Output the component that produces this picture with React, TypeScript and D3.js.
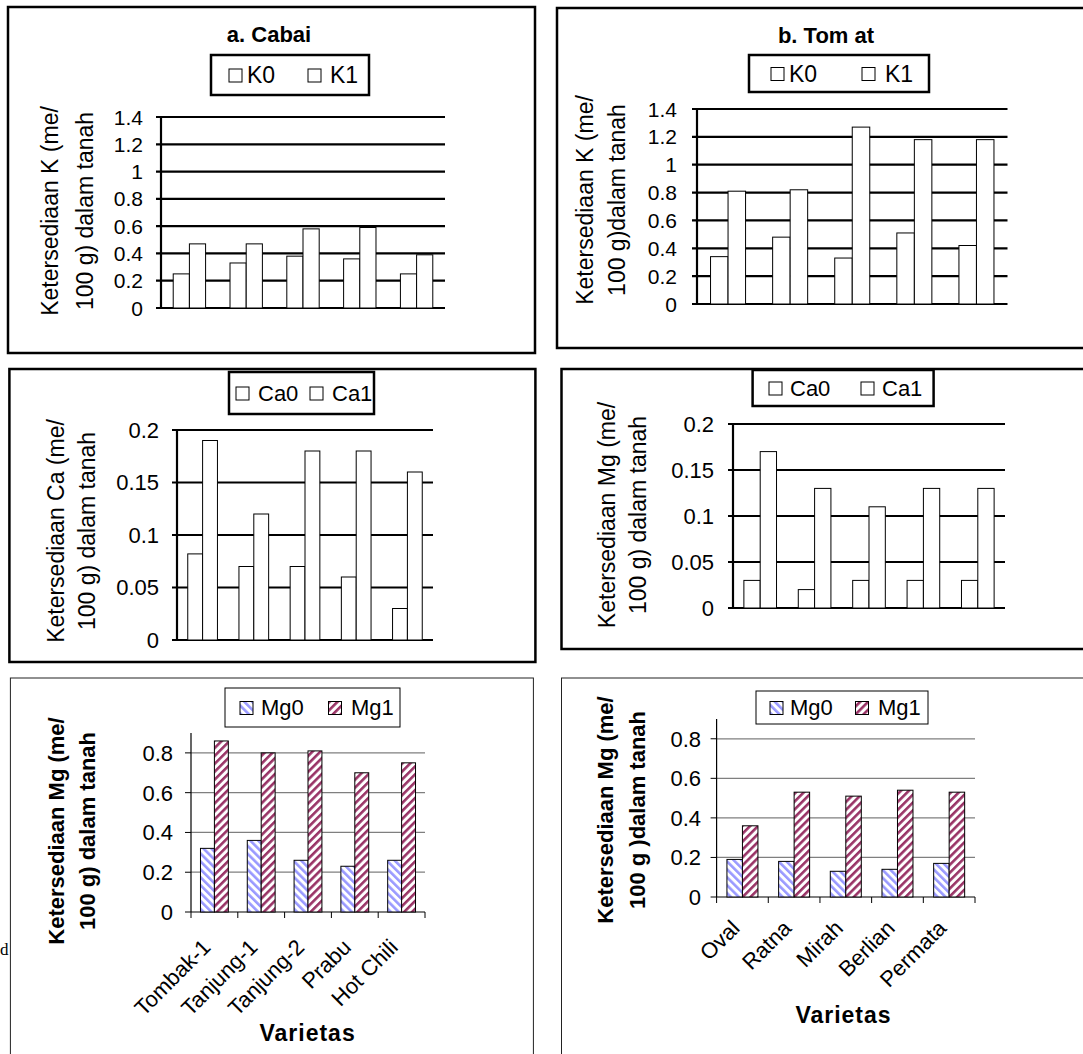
import React from "react";
import * as d3 from "d3";

// varieties (same order in every panel of a column)
const cabaiVarieties = ["Tombak-1", "Tanjung-1", "Tanjung-2", "Prabu", "Hot Chili"];
const tomatVarieties = ["Oval", "Ratna", "Mirah", "Berlian", "Permata"];

// K (me/100 g)
const cabaiK0 = [0.25, 0.33, 0.38, 0.36, 0.25];
const cabaiK1 = [0.47, 0.47, 0.58, 0.59, 0.39];
const tomatK0 = [0.34, 0.48, 0.33, 0.51, 0.42];
const tomatK1 = [0.81, 0.82, 1.27, 1.18, 1.18];

// Ca (me/100 g)
const cabaiCa0 = [0.082, 0.07, 0.07, 0.06, 0.03];
const cabaiCa1 = [0.19, 0.12, 0.18, 0.18, 0.16];
const tomatCa0 = [0.03, 0.02, 0.03, 0.03, 0.03];
const tomatCa1 = [0.17, 0.13, 0.11, 0.13, 0.13];

// Mg (me/100 g)
const cabaiMg0 = [0.32, 0.36, 0.26, 0.23, 0.26];
const cabaiMg1 = [0.86, 0.8, 0.81, 0.7, 0.75];
const tomatMg0 = [0.19, 0.18, 0.13, 0.14, 0.17];
const tomatMg1 = [0.36, 0.53, 0.51, 0.54, 0.53];

const kTicks = [0, 0.2, 0.4, 0.6, 0.8, 1, 1.2, 1.4];
const caTicks = [0, 0.05, 0.1, 0.15, 0.2];
const mgTicks = [0, 0.2, 0.4, 0.6, 0.8];

const kLegend = ["K0", "K1"];
const caLegend = ["Ca0", "Ca1"];
const mgLegend = ["Mg0", "Mg1"];

const FONT = "'Liberation Sans', Arial, sans-serif";

const panels = [
    {
        frame: { x: 8, y: 7, w: 527, h: 346, sw: 2.5 },
        title: { text: "a. Cabai", x: 269, y: 42 },
        legend: { x: 211, y: 55, w: 158, h: 40, sw: 2.5, sq: [229, 308], tx: [247, 330], fs: 23 },
        labels: kLegend,
        plot: { left: 161, right: 445, top: 117, bottom: 308 },
        max: 1.4, ticks: kTicks, pad: 0.43,
        labelRight: 143, tickFs: 21,
        yTitle: ["Ketersediaan K (me/", "100 g) dalam tanah"], yTitleX: [50, 85], yTitleCy: 211, yTitleFs: 23,
        cats: cabaiVarieties, series: [cabaiK0, cabaiK1], style: "plain"
    },
    {
        frame: { x: 557, y: 8, w: 540, h: 340, sw: 2.5 },
        title: { text: "b. Tom at", x: 826, y: 43 },
        legend: { x: 749, y: 55, w: 180, h: 37, sw: 2.5, sq: [771, 862], tx: [789, 885], fs: 23 },
        labels: kLegend,
        plot: { left: 697, right: 1007.5, top: 109, bottom: 304 },
        max: 1.4, ticks: kTicks, pad: 0.436,
        labelRight: 677, tickFs: 21,
        yTitle: ["Ketersediaan K (me/", "100 g)dalam tanah"], yTitleX: [584.5, 617], yTitleCy: 200, yTitleFs: 23,
        cats: tomatVarieties, series: [tomatK0, tomatK1], style: "plain"
    },
    {
        frame: { x: 9.4, y: 369, w: 526, h: 293, sw: 2.5 },
        legend: { x: 229, y: 372, w: 145, h: 42, sw: 2.5, sq: [236, 310], tx: [258, 332], fs: 22 },
        labels: caLegend,
        plot: { left: 177, right: 433, top: 430, bottom: 640 },
        max: 0.2, ticks: caTicks, pad: 0.42,
        labelRight: 159, tickFs: 22,
        yTitle: ["Ketersediaan Ca (me/", "100 g) dalam tanah"], yTitleX: [55.6, 87], yTitleCy: 531, yTitleFs: 23,
        cats: cabaiVarieties, series: [cabaiCa0, cabaiCa1], style: "plain"
    },
    {
        frame: { x: 561.5, y: 369, w: 540, h: 280, sw: 2.5 },
        legend: { x: 752.6, y: 370, w: 181, h: 36, sw: 2.5, sq: [769, 861], tx: [790, 882], fs: 22 },
        labels: caLegend,
        plot: { left: 733, right: 1005, top: 424, bottom: 608 },
        max: 0.2, ticks: caTicks, pad: 0.4,
        labelRight: 714, tickFs: 22,
        yTitle: ["Ketersediaan Mg (me/", "100 g) dalam tanah"], yTitleX: [607, 638], yTitleCy: 515, yTitleFs: 23,
        cats: tomatVarieties, series: [tomatCa0, tomatCa1], style: "plain"
    },
    {
        frame: { x: 10.4, y: 678, w: 523, h: 420, sw: 1 },
        legend: { x: 225, y: 688, w: 175, h: 39, sw: 1, sq: [240, 328.5], tx: [261, 351], fs: 22 },
        labels: mgLegend,
        plot: { left: 191, right: 425, top: 733, bottom: 912 },
        max: 0.9, ticks: mgTicks, pad: 0.405,
        labelRight: 173, tickFs: 22,
        yTitle: ["Ketersediaan Mg (me/", "100 g) dalam tanah"], yTitleX: [55.6, 87], yTitleCy: 831, yTitleFs: 22,
        cats: cabaiVarieties, series: [cabaiMg0, cabaiMg1], style: "hatched",
        xTitle: { x: 307.6, y: 1041 }, xLabelDx: -8, xLabelDy: 31
    },
    {
        frame: { x: 561.5, y: 678, w: 540, h: 420, sw: 1 },
        legend: { x: 756, y: 691, w: 172, h: 33, sw: 1, sq: [770, 855.5], tx: [790, 878], fs: 22 },
        labels: mgLegend,
        plot: { left: 716.6, right: 975, top: 719, bottom: 897 },
        max: 0.9, ticks: mgTicks, pad: 0.4,
        labelRight: 701, tickFs: 22,
        yTitle: ["Ketersediaan Mg (me/", "100 g )dalam tanah"], yTitleX: [605, 637], yTitleCy: 810, yTitleFs: 22,
        cats: tomatVarieties, series: [tomatMg0, tomatMg1], style: "hatched",
        xTitle: { x: 843.5, y: 1023 }, xLabelDx: -7, xLabelDy: 27
    }
];

const hatchFill = ["url(#hatch0)", "url(#hatch1)"];

const Panel = ({ p }: { p: any }) => {
    const hatched = p.style === "hatched";
    const y = d3.scaleLinear().domain([0, p.max]).range([p.plot.bottom, p.plot.top]);
    const x0 = d3
        .scaleBand<string>()
        .domain(p.cats)
        .range([p.plot.left, p.plot.right])
        .paddingInner(p.pad)
        .paddingOuter(p.pad / 2);
    const x1 = d3.scaleBand<number>().domain([0, 1]).range([0, x0.bandwidth()]);
    const step = (p.plot.right - p.plot.left) / p.cats.length;
    const fillOf = (i: number) => (hatched ? hatchFill[i] : "#fff");

    const lg = p.legend;
    const lgCy = lg.y + lg.h / 2;

    return (
        <g>
            <rect
                x={p.frame.x}
                y={p.frame.y}
                width={p.frame.w}
                height={p.frame.h}
                fill="none"
                stroke={hatched ? "#222" : "#000"}
                strokeWidth={p.frame.sw}
            />
            {p.title && (
                <text x={p.title.x} y={p.title.y} textAnchor="middle" fontSize={22} fontWeight="bold">
                    {p.title.text}
                </text>
            )}

            {/* gridlines */}
            {p.ticks.map((t: number) =>
                hatched ? (
                    <g key={t}>
                        {t > 0 && (
                            <line x1={p.plot.left} x2={p.plot.right} y1={y(t)} y2={y(t)} stroke="#7f7f7f" strokeWidth={1.2} />
                        )}
                        <line x1={p.plot.left - 6} x2={p.plot.left} y1={y(t)} y2={y(t)} stroke="#000" strokeWidth={1} />
                    </g>
                ) : (
                    <line key={t} x1={p.plot.left - 5} x2={p.plot.right} y1={y(t)} y2={y(t)} stroke="#000" strokeWidth={2.2} />
                )
            )}
            <line
                x1={p.plot.left}
                x2={p.plot.left}
                y1={y(0)}
                y2={y(p.max)}
                stroke="#000"
                strokeWidth={hatched ? 1.2 : 2.2}
            />
            {hatched && (
                <g>
                    <line x1={p.plot.left} x2={p.plot.right} y1={y(0)} y2={y(0)} stroke="#000" strokeWidth={1.2} />
                    {d3.range(p.cats.length + 1).map((i) => (
                        <line
                            key={i}
                            x1={p.plot.left + i * step}
                            x2={p.plot.left + i * step}
                            y1={y(0)}
                            y2={y(0) + 6}
                            stroke="#000"
                        />
                    ))}
                </g>
            )}

            {/* y tick labels */}
            {p.ticks.map((t: number) => (
                <text key={t} x={p.labelRight} y={y(t)} dy="0.36em" textAnchor="end" fontSize={p.tickFs}>
                    {String(t)}
                </text>
            ))}

            {/* bars */}
            {p.cats.map((c: string, ci: number) => (
                <g key={c} transform={`translate(${x0(c)},0)`}>
                    {p.series.map((s: number[], si: number) => (
                        <rect
                            key={si}
                            x={x1(si)}
                            y={y(s[ci])}
                            width={x1.bandwidth()}
                            height={y(0) - y(s[ci])}
                            fill={fillOf(si)}
                            stroke="#000"
                            strokeWidth={1}
                        />
                    ))}
                </g>
            ))}

            {/* x labels */}
            {hatched &&
                p.cats.map((c: string) => {
                    const cx = (x0(c) as number) + x0.bandwidth() / 2 + p.xLabelDx;
                    return (
                        <text
                            key={c}
                            transform={`translate(${cx},${y(0) + p.xLabelDy}) rotate(-45)`}
                            dy="0.36em"
                            textAnchor="end"
                            fontSize={22}
                        >
                            {c}
                        </text>
                    );
                })}
            {p.xTitle && (
                <text x={p.xTitle.x} y={p.xTitle.y} textAnchor="middle" fontSize={23} fontWeight="bold" letterSpacing={1}>
                    Varietas
                </text>
            )}

            {/* y title */}
            {p.yTitle.map((line: string, i: number) => (
                <text
                    key={i}
                    transform={`translate(${p.yTitleX[i]},${p.yTitleCy}) rotate(-90)`}
                    dy="0.36em"
                    textAnchor="middle"
                    fontSize={p.yTitleFs}
                    fontWeight={hatched ? "bold" : "normal"}
                >
                    {line}
                </text>
            ))}

            {/* legend */}
            <rect x={lg.x} y={lg.y} width={lg.w} height={lg.h} fill="#fff" stroke="#000" strokeWidth={lg.sw} />
            {p.labels.map((l: string, i: number) => (
                <g key={l}>
                    <rect x={lg.sq[i]} y={lgCy - 6} width={13} height={13} fill={fillOf(i)} stroke="#000" strokeWidth={1} />
                    <text x={lg.tx[i]} y={lgCy} dy="0.36em" fontSize={lg.fs}>
                        {l}
                    </text>
                </g>
            ))}
        </g>
    );
};

const App = () => (
    <svg
        width={1083}
        height={1054}
        style={{ position: "absolute", left: 0, top: 0, background: "#fff" }}
        fontFamily={FONT}
    >
        <defs>
            <pattern id="hatch0" width={5.6} height={5.6} patternUnits="userSpaceOnUse" patternTransform="rotate(-45)">
                <rect width={5.6} height={5.6} fill="#fff" />
                <rect width={2.6} height={5.6} fill="#9999ff" />
            </pattern>
            <pattern id="hatch1" width={5.6} height={5.6} patternUnits="userSpaceOnUse" patternTransform="rotate(45)">
                <rect width={5.6} height={5.6} fill="#fff" />
                <rect width={2.6} height={5.6} fill="#993366" />
            </pattern>
        </defs>
        <rect width={1083} height={1054} fill="#fff" />
        {panels.map((p, i) => (
            <Panel key={i} p={p} />
        ))}
        <text x={0} y={955} fontSize={17} fontFamily="'Liberation Serif', serif">
            d
        </text>
    </svg>
);

export default App;
